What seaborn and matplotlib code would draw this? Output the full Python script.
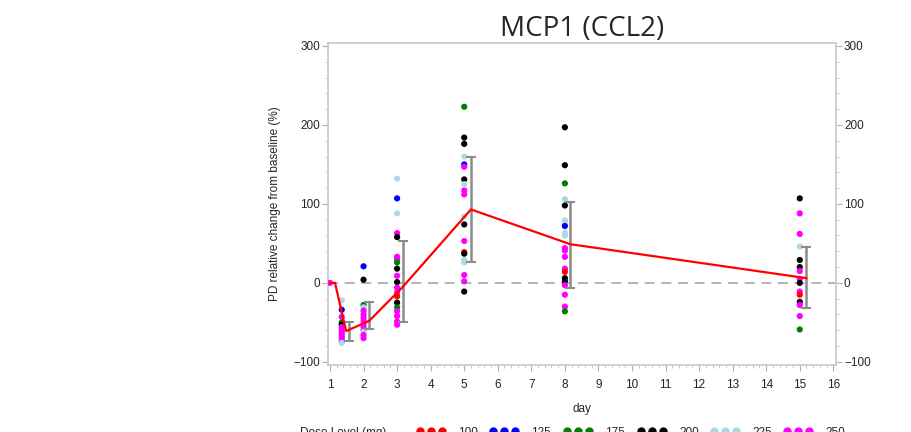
import numpy as np
import pandas as pd
import matplotlib
matplotlib.use('Agg')
import matplotlib.pyplot as plt
import seaborn as sns
from matplotlib.lines import Line2D
from matplotlib.ticker import MultipleLocator

# individual subject values (day, % change, dose level)
day_pts = ([1.0] +
           [1.35] * 13 +
           [2.0] * 14 +
           [3.0] * 20 +
           [5.0] * 20 +
           [8.0] * 21 +
           [15.0] * 15)
pct_pts = ([0] +
           [-22, -34, -43, -50, -53, -56, -59, -62, -65, -68, -71, -74, -76] +
           [21, 4, -28, -31, -35, -40, -44, -48, -52, -56, -60, -62, -66, -70] +
           [132, 107, 88, 63, 58, 33, 30, 26, 18, 9, 1, -6, -12, -17, -25, -31, -36, -42, -49, -53] +
           [223, 184, 176, 160, 150, 147, 131, 125, 117, 112, 84, 74, 53, 39, 37, 29, 26, 10, 2, -11] +
           [197, 149, 126, 106, 98, 79, 75, 72, 63, 44, 41, 33, 18, 14, 6, 2, -3, -15, -30, -36, 60] +
           [107, 88, 62, 46, 29, 20, 15, 5, 0, -11, -15, -24, -28, -42, -59])
dose_pts = (['250'] +
            ['225', '125', '250', '175', '200', '250', '250', '250', '250', '250', '250', '250', '225'] +
            ['125', '200', '175', '225', '250', '250', '250', '250', '250', '250', '250', '225', '250', '250'] +
            ['225', '125', '225', '250', '200', '250', '250', '175', '200', '250', '200', '250', '250', '100',
             '200', '175', '250', '250', '250', '250'] +
            ['175', '200', '200', '225', '125', '250', '200', '225', '250', '250', '225', '200', '250', '100',
             '200', '225', '225', '250', '250', '200'] +
            ['200', '200', '175', '225', '200', '225', '225', '125', '225', '250', '250', '250', '250', '100',
             '200', '200', '250', '250', '250', '175', '225'] +
            ['200', '250', '250', '225', '200', '200', '250', '250', '200', '250', '100', '200', '250', '250',
             '175'])

# mean and spread (offset slightly to the right of each day)
mean_day = [1.0, 1.15, 1.48, 2.17, 3.17, 5.2, 8.16, 15.2]
mean_pct = [0, 0, -61, -48, -5, 93, 49, 6]
bar_day = [1.58, 2.17, 3.17, 5.2, 8.16, 15.2]
bar_mid = [-61, -48, -5, 93, 49, 6]
bar_low = [-73, -59, -50, 27, -7, -32]
bar_high = [-49, -24, 53, 160, 103, 46]

dose_levels = ['100', '125', '175', '200', '225', '250']
dose_colors = ['#ff0000', '#0000ff', '#008000', '#000000', '#add8e6', '#ff00ff']

df = pd.DataFrame({'day': day_pts, 'pct': pct_pts, 'dose': dose_pts})

sns.set_style('white')
plt.rcParams['font.family'] = ['Liberation Sans', 'DejaVu Sans']

fig = plt.figure(figsize=(9.12, 4.32), dpi=100)
ax = fig.add_axes([0.36, 0.155, 0.5563, 0.746])

ax.axhline(0, color='#a8a8a8', lw=1.2, dashes=(6, 4), zorder=1)

sns.scatterplot(data=df, x='day', y='pct', hue='dose', hue_order=dose_levels,
                palette=dict(zip(dose_levels, dose_colors)), s=20, linewidth=0,
                legend=False, ax=ax, zorder=3)

yerr = [np.array(bar_mid) - np.array(bar_low), np.array(bar_high) - np.array(bar_mid)]
ax.errorbar(bar_day, bar_mid, yerr=yerr, fmt='none', ecolor='#8c8c8c',
            elinewidth=1.8, capsize=3.5, capthick=1.5, zorder=4)

ax.plot(mean_day, mean_pct, color='#ff0000', lw=1.6, zorder=5)

ax.set_xlim(0.95, 16.07)
ax.set_ylim(-104, 304)
ax.set_xticks(range(1, 17))
ax.set_yticks([-100, 0, 100, 200, 300])
ax.set_yticklabels(['\u2212100', '0', '100', '200', '300'])
ax.xaxis.set_minor_locator(MultipleLocator(0.2))
ax.yaxis.set_minor_locator(MultipleLocator(20))

for sp in ax.spines.values():
    sp.set_color('#c8c8c8')
    sp.set_linewidth(1.2)

ax.tick_params(axis='both', which='major', length=4, width=0.8, color='#b0b0b0',
               labelsize=8.5, pad=2, left=True, bottom=True, right=True,
               labelright=True)
ax.tick_params(axis='both', which='minor', length=2.5, width=0.6, color='#c0c0c0',
               left=True, bottom=True, right=True)
ax.tick_params(axis='x', pad=6)

ax.set_xlabel('day', fontsize=8.5, labelpad=9)
ax.set_ylabel('PD relative change from baseline (%)', fontsize=8.5, labelpad=9)
ax.set_title('MCP1 (CCL2)', fontsize=20, family='Open Sans', pad=3)

# bottom legend, cut off by the figure edge like the source image
fig.text(300 / 912, 1 - 427 / 432, 'Dose Level (mg)', fontsize=8.5, va='top', ha='left')
group_x = [420, 493, 567, 641, 714, 787]
for gx, lab, col in zip(group_x, dose_levels, dose_colors):
    xs = [(gx + k * 11) / 912 for k in range(3)]
    fig.add_artist(Line2D(xs, [1 - 431 / 432] * 3, transform=fig.transFigure,
                          marker='o', ms=5, ls='none', color=col, mec=col))
    fig.text((gx + 38) / 912, 1 - 427 / 432, lab, fontsize=8.5, va='top', ha='left')

fig.savefig('out.png', dpi=100)
